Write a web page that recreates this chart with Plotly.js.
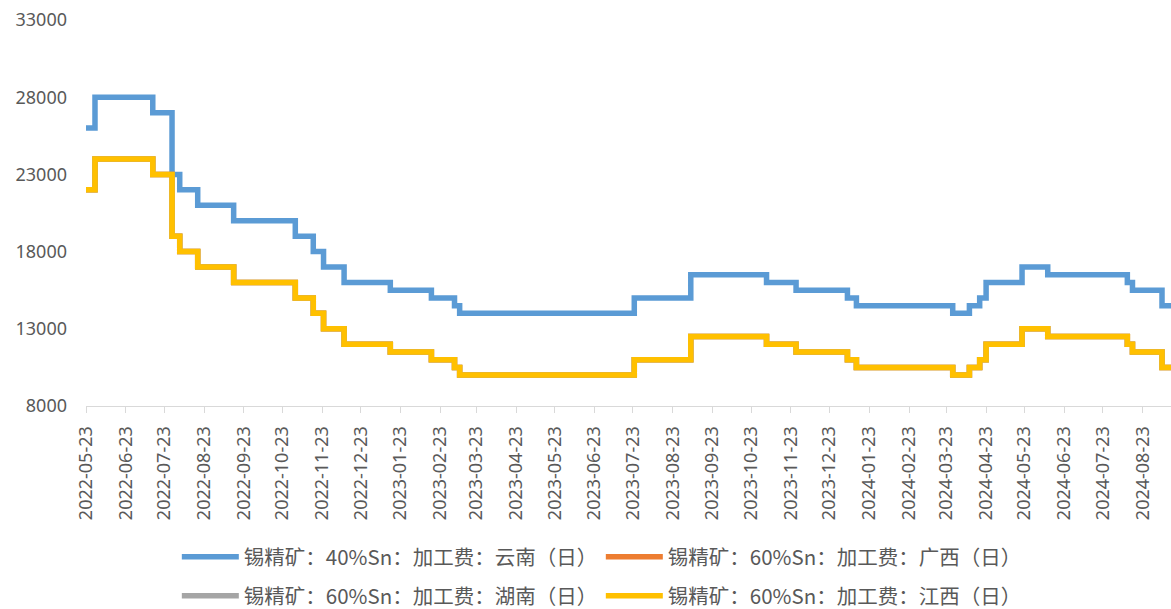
<!DOCTYPE html>
<html>
<head>
<meta charset="utf-8">
<script src="https://cdn.plot.ly/plotly-3.0.1.min.js"></script>
<style>html,body{margin:0;padding:0;background:#fff;}#chart{width:1171px;height:609px;}</style>
</head>
<body>
<div id="chart"></div>
<script>
// Change-point dates (value holds until next date)
const yunnanDates = ['2022-05-23','2022-05-30','2022-07-14','2022-07-29','2022-08-04','2022-08-18','2022-09-15','2022-11-02','2022-11-16','2022-11-24','2022-12-10','2023-01-15','2023-02-16','2023-03-06','2023-03-10','2023-07-24','2023-09-06','2023-11-04','2023-11-27','2024-01-06','2024-01-13','2024-03-28','2024-04-10','2024-04-18','2024-04-23','2024-05-21','2024-06-10','2024-08-11','2024-08-15','2024-09-07','2024-09-14'];
const yunnanValues = [26000,28000,27000,23000,22000,21000,20000,19000,18000,17000,16000,15500,15000,14500,14000,15000,16500,16000,15500,15000,14500,14000,14500,15000,16000,17000,16500,16000,15500,14500,14500];

const jiangxiDates = ['2022-05-23','2022-05-30','2022-07-14','2022-07-29','2022-08-04','2022-08-18','2022-09-15','2022-11-02','2022-11-16','2022-11-24','2022-12-10','2023-01-15','2023-02-16','2023-03-06','2023-03-10','2023-07-24','2023-09-06','2023-11-04','2023-11-27','2024-01-06','2024-01-13','2024-03-28','2024-04-10','2024-04-18','2024-04-23','2024-05-21','2024-06-10','2024-08-11','2024-08-15','2024-09-07','2024-09-14'];
const jiangxiValues = [22000,24000,23000,19000,18000,17000,16000,15000,14000,13000,12000,11500,11000,10500,10000,11000,12500,12000,11500,11000,10500,10000,10500,11000,12000,13000,12500,12000,11500,10500,10500];

// Guangxi and Hunan series lie underneath the Jiangxi line
const guangxiDates = jiangxiDates;
const guangxiValues = [22000,24000,23000,19000,18000,17000,16000,15000,14000,13000,12000,11500,11000,10500,10000,11000,12500,12000,11500,11000,10500,10000,10500,11000,12000,13000,12500,12000,11500,10500,10500];
const hunanDates = jiangxiDates;
const hunanValues = [22000,24000,23000,19000,18000,17000,16000,15000,14000,13000,12000,11500,11000,10500,10000,11000,12500,12000,11500,11000,10500,10000,10500,11000,12000,13000,12500,12000,11500,10500,10500];

const seriesNames = ['锡精矿：40%Sn：加工费：云南（日）','锡精矿：60%Sn：加工费：广西（日）','锡精矿：60%Sn：加工费：湖南（日）','锡精矿：60%Sn：加工费：江西（日）'];

const tickDates = ['2022-05-23','2022-06-23','2022-07-23','2022-08-23','2022-09-23','2022-10-23','2022-11-23','2022-12-23','2023-01-23','2023-02-23','2023-03-23','2023-04-23','2023-05-23','2023-06-23','2023-07-23','2023-08-23','2023-09-23','2023-10-23','2023-11-23','2023-12-23','2024-01-23','2024-02-23','2024-03-23','2024-04-23','2024-05-23','2024-06-23','2024-07-23','2024-08-23'];
const yTicks = [8000,13000,18000,23000,28000,33000];

const colors = ['#5B9BD5','#ED7D31','#A5A5A5','#FFC000'];
const lw = 5.5;

function tr(x, y, i, legendId) {
  return {x: x, y: y, name: seriesNames[i], type: 'scatter', mode: 'lines',
    line: {color: colors[i], width: lw, shape: 'hv'}, legend: legendId, hoverinfo: 'x+y'};
}

const data = [
  tr(yunnanDates, yunnanValues, 0, 'legend'),
  tr(guangxiDates, guangxiValues, 1, 'legend'),
  tr(hunanDates, hunanValues, 2, 'legend2'),
  tr(jiangxiDates, jiangxiValues, 3, 'legend2')
];

const tickFont = {family: 'Noto Sans, Liberation Sans, sans-serif', size: 18, color: '#595959'};
const legFont = {family: 'Noto Sans CJK SC, sans-serif', size: 20.5, color: '#595959'};

const legendBase = {orientation: 'h', xref: 'container', yref: 'container', x: 0.151, xanchor: 'left',
  yanchor: 'middle', font: legFont, entrywidth: 352, entrywidthmode: 'pixels', itemwidth: 57,
  bgcolor: 'rgba(0,0,0,0)', traceorder: 'normal'};

const layout = {
  width: 1171, height: 609,
  margin: {l: 86, r: 0, t: 20, b: 203},
  paper_bgcolor: '#ffffff', plot_bgcolor: '#ffffff',
  showlegend: true,
  legend: Object.assign({}, legendBase, {y: (609 - 557) / 609}),
  legend2: Object.assign({}, legendBase, {y: (609 - 596) / 609}),
  xaxis: {
    type: 'date', range: ['2022-05-23', '2024-09-14'],
    tickvals: tickDates, ticktext: tickDates, tickangle: -90,
    tickfont: tickFont, showgrid: false, zeroline: false,
    showline: true, linecolor: '#d9d9d9', linewidth: 1,
    ticks: 'outside', ticklen: 6, tickcolor: '#d9d9d9', ticklabelstandoff: 6
  },
  yaxis: {
    range: [8000, 33000], tickvals: yTicks, ticktext: yTicks.map(String),
    tickfont: tickFont, showgrid: false, zeroline: false, showline: false,
    ticks: '', ticklabelstandoff: 18
  }
};

Plotly.newPlot('chart', data, layout, {displayModeBar: false, staticPlot: true});
</script>
</body>
</html>
